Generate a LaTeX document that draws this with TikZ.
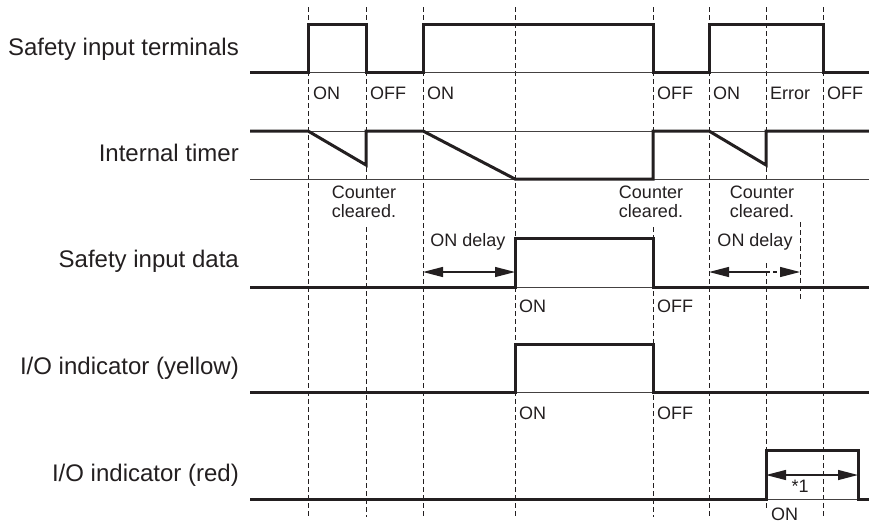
\documentclass[tikz,border=0pt]{standalone}
\usepackage{fontspec}
\setmainfont{Liberation Sans}
\usetikzlibrary{arrows.meta}
\definecolor{ink}{HTML}{231F20}
\begin{document}
\begin{tikzpicture}[x=1pt,y=-1pt,
  sig/.style={line width=3pt, draw=ink, line join=miter},
  baseln/.style={line width=0.9pt, draw=ink!85},
  gridln/.style={line width=1pt, draw=ink, dash pattern=on 4.5pt off 3.5pt},
  lab/.style={font=\fontsize{24}{28}\selectfont, text=ink, anchor=base east, inner sep=0pt},
  st/.style={font=\fontsize{18}{19}\selectfont, text=ink, anchor=base west, inner sep=0pt},
  note/.style={font=\fontsize{18}{18.5}\selectfont, text=ink, align=center, inner sep=0pt},
  tip/.tip={Triangle[length=20pt,width=10pt]},
  dimln/.style={line width=1.3pt, draw=ink}]
\useasboundingbox (0,0) rectangle (869,525);

% vertical dashed guide lines
\foreach \x in {308,423,515,709,823} \draw[gridln] (\x,7) -- (\x,517);
\draw[gridln] (366,7) -- (366,183) (366,227) -- (366,517);
\draw[gridln] (653,7) -- (653,183) (653,227) -- (653,517);
\draw[gridln] (766,7) -- (766,183) (766,263) -- (766,510);
\draw[gridln] (800,222) -- (800,302);

% thin reference lines
\draw[baseln] (250,72) -- (869,72);
\draw[baseln] (250,131) -- (869,131);
\draw[baseln] (250,179) -- (869,179);
\draw[baseln] (250,287) -- (869,287);
\draw[baseln] (250,392) -- (869,392);
\draw[baseln] (250,499) -- (869,499);

% signals
\draw[sig] (250,72) -- (308,72) -- (308,24) -- (366,24) -- (366,72) -- (423,72) -- (423,24)
  -- (653,24) -- (653,72) -- (709,72) -- (709,24) -- (823,24) -- (823,72) -- (869,72);
\draw[sig] (250,131) -- (308,131) -- (366,165) -- (366,131) -- (423,131) -- (515,179)
  -- (653,179) -- (653,131) -- (709,131) -- (766,165) -- (766,131) -- (869,131);
\draw[sig] (250,287) -- (515,287) -- (515,238) -- (653,238) -- (653,287) -- (869,287);
\draw[sig] (250,392) -- (515,392) -- (515,344) -- (653,344) -- (653,392) -- (869,392);
\draw[sig] (250,499) -- (766,499) -- (766,450) -- (858,450) -- (858,499) -- (869,499);

% row labels
\node[lab] (l1) at (239,55) {Safety input terminals};
\node[lab] (l2) at (239,161.5) {Internal timer};
\node[lab] (l3) at (239,267) {Safety input data};
\node[lab] (l4) at (239,374) {I/O indicator (yellow)};
\node[lab] (l5) at (239,481.5) {I/O indicator (red)};

% state labels
\node[st] (s1) at (313,99) {ON};
\node[st] (s2) at (370,99) {OFF};
\node[st] (s3) at (427,99) {ON};
\node[st] (s4) at (657,99) {OFF};
\node[st] (s5) at (713,99) {ON};
\node[st] (s6) at (770,99) {Error};
\node[st] (s7) at (827,99) {OFF};
\node[st] (d1) at (519,312) {ON};
\node[st] (d2) at (657,312) {OFF};
\node[st] (y1) at (519,419) {ON};
\node[st] (y2) at (657,419) {OFF};
\node[st] (r1) at (771,520.5) {ON};

% notes
\node[note] (c1) at (364,202) {Counter\\cleared.};
\node[note] (c2) at (651,202) {Counter\\cleared.};
\node[note] (c3) at (762,202) {Counter\\cleared.};
\node[note, anchor=base] (o1) at (468,246.5) {ON delay};
\node[note, anchor=base] (o2) at (755,246.5) {ON delay};
\node[note] (n1) at (800,486) {*1};

% dimension arrows
\coordinate (a1) at (423,272);
\coordinate (a2) at (515,272);
\coordinate (b1) at (709,272);
\coordinate (b2) at (766,272);
\coordinate (b3) at (800,272);
\coordinate (e1) at (766,475);
\coordinate (e2) at (858,475);
\draw[dimln, tip-tip] (a1) -- (a2);
\draw[dimln, tip-] (b1) -- (b2);
\draw[dimln, dash pattern=on 4pt off 3pt, -tip] (b2) -- (b3);
\draw[dimln, tip-tip] (e1) -- (e2);
\end{tikzpicture}
\end{document}
